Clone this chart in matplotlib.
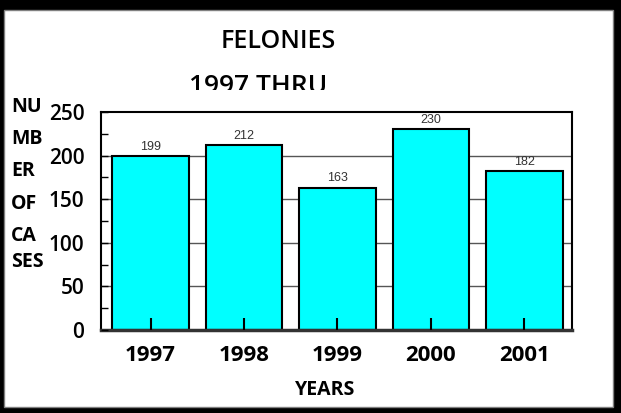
import matplotlib
matplotlib.use("Agg")
import matplotlib.pyplot as plt
from matplotlib.patches import Rectangle
from matplotlib.transforms import Bbox

years = ["1997", "1998", "1999", "2000", "2001"]
cases = [199, 212, 163, 230, 182]
y_ticks = [0, 50, 100, 150, 200, 250]
y_label_parts = ["NU", "MB", "ER", "OF", "CA", "SES"]

W, H = 621, 413
fig = plt.figure(figsize=(W / 100, H / 100), dpi=100)
fig.patch.set_facecolor("black")

def fx(px):
    return px / W

def fy(py):
    return 1 - py / H

# white panel inside the black frame
fig.patches.append(Rectangle((fx(4), fy(407)), fx(609), (407 - 10) / H,
                             transform=fig.transFigure, facecolor="white",
                             edgecolor="#808080", linewidth=1, zorder=-10))

ax = fig.add_axes([fx(101), fy(330), fx(572) - fx(101), (330 - 112) / H])
ax.set_zorder(1)
ax.set_facecolor("white")

x = list(range(len(years)))
bars = ax.bar(x, cases, width=0.82, color="#00FFFF", edgecolor="black",
              linewidth=1.5, zorder=2)

for yv in y_ticks[1:-1]:
    ax.axhline(yv, color="#555555", linewidth=1, zorder=1)

for xi, v in zip(x, cases):
    ax.text(xi, v + 4, str(v), ha="center", va="bottom", fontsize=9,
            color="#333333", family="Liberation Sans", zorder=3)

ax.set_xlim(-0.53, 4.51)
ax.set_ylim(0, 250)
ax.set_axisbelow(False)
ax.set_yticks(y_ticks)
ax.set_yticks([25, 75, 125, 175, 225], minor=True)
ax.set_yticklabels([str(v) for v in y_ticks], fontsize=15, fontweight="semibold",
                   family="Open Sans")
ax.set_xticks(x)
ax.set_xticklabels(years, fontsize=16, fontweight="bold", family="Open Sans")
ax.tick_params(axis="y", which="both", direction="in", length=5, width=1,
               pad=12, right=False)
ax.tick_params(axis="x", direction="in", length=9, width=1.5, pad=11)

for s in ax.spines.values():
    s.set_linewidth(1.5)
    s.set_color("black")
ax.spines["bottom"].set_linewidth(2.5)
ax.spines["bottom"].set_color("#333333")

fig.text(fx(278), fy(42), "FELONIES", ha="center", va="center",
         fontsize=18, fontweight="semibold", color="black", family="Open Sans")
sub = fig.text(fx(258), fy(93), "1997 THRU", ha="center", va="baseline",
               fontsize=19, fontweight="semibold", color="black",
               family="Open Sans")
sub.set_clip_box(Bbox.from_extents(0, H - 90, W, H))
sub.set_clip_on(True)

label_rows = [107, 139, 171, 204, 236, 262]
for part, py in zip(y_label_parts, label_rows):
    fig.text(fx(11), fy(py), part, ha="left", va="center", fontsize=14,
             fontweight="bold", family="Open Sans", color="black")

fig.text(fx(325), fy(390), "YEARS", ha="center", va="center", fontsize=14,
         fontweight="bold", family="Open Sans", color="black")

fig.savefig("out.png", dpi=100, facecolor=fig.get_facecolor())
